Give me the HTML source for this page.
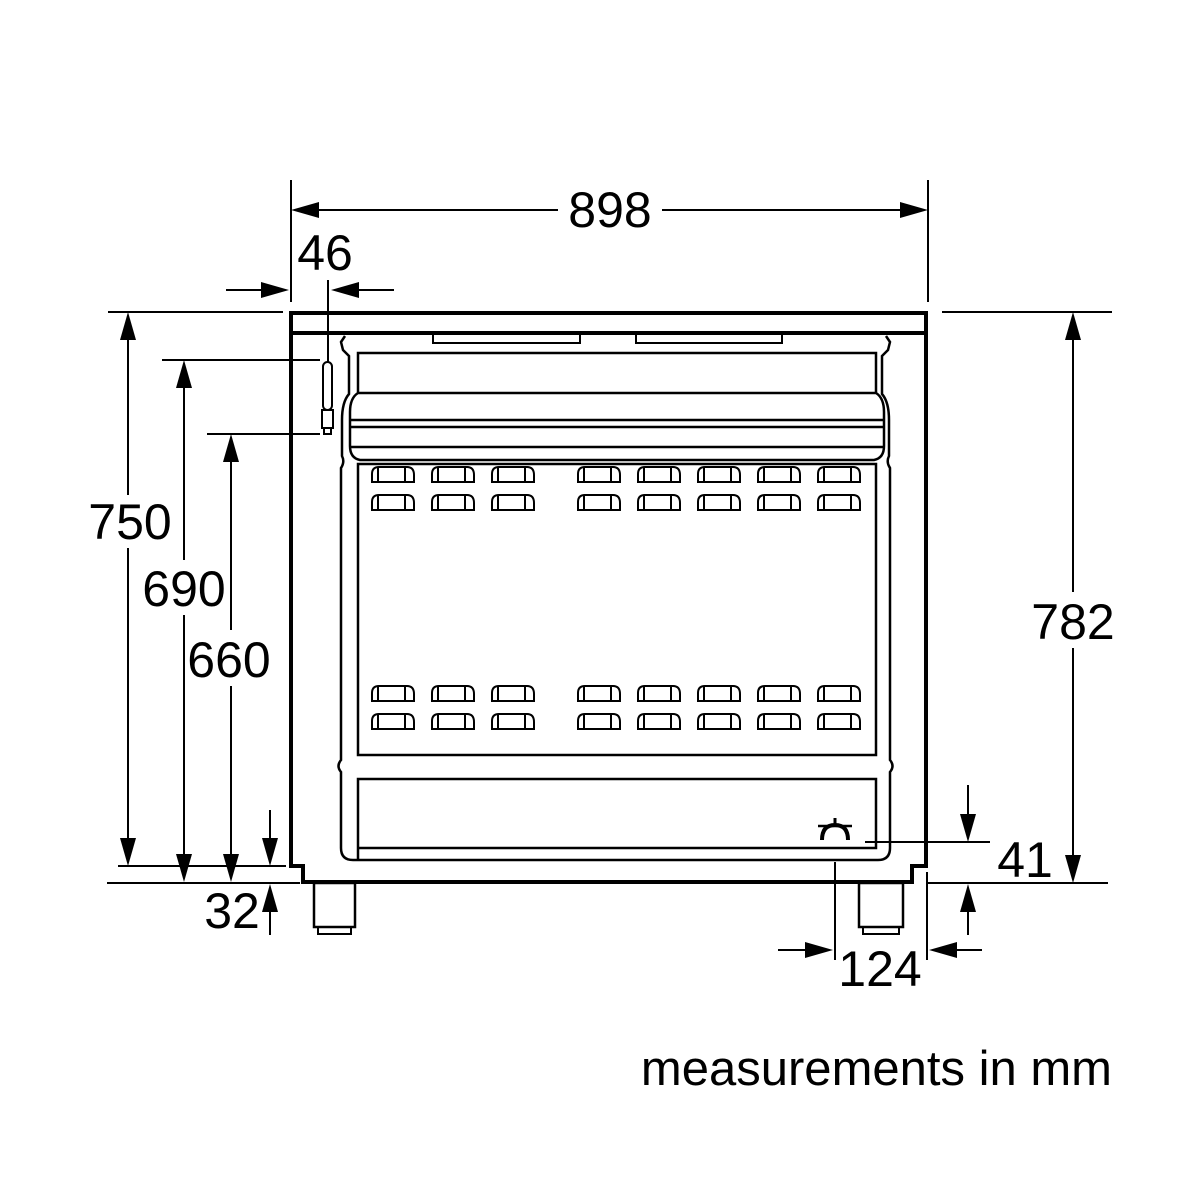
<!DOCTYPE html>
<html><head><meta charset="utf-8"><style>
html,body{margin:0;padding:0;background:#fff;}
svg{display:block;}
text{font-family:"Liberation Sans",sans-serif;fill:#000;}
</style></head><body>
<svg width="1200" height="1200" viewBox="0 0 1200 1200" xmlns="http://www.w3.org/2000/svg">
<defs>
<symbol id="vent" viewBox="0 0 44 17" width="44" height="17" overflow="visible">
<path d="M1 16 L1 8 Q1 1 8 1 L36 1 Q43 1 43 9 L43 16 Z" fill="none" stroke="#000" stroke-width="2"/>
<line x1="7" y1="1" x2="7" y2="16" stroke="#000" stroke-width="2"/>
<line x1="34" y1="1" x2="34" y2="16" stroke="#000" stroke-width="2"/>
</symbol>
</defs>
<g fill="none" stroke="#000">
<line x1="290" y1="313" x2="928" y2="313" stroke-width="4"/>
<line x1="290" y1="333" x2="928" y2="333" stroke-width="4"/>
<path d="M291 311 L291 866 L303 866 L303 882 L912 882 L912 866 L926 866 L926 311" stroke-width="4"/>
<path d="M433 333 L433 343 L580 343 L580 333" stroke-width="2"/>
<path d="M636 333 L636 343 L782 343 L782 333" stroke-width="2"/>
<path d="M345 336 L341 342 L343 350 L349 356 L349 394 Q342 402 342 420 L342 456 Q345 462 341 468 L341 760 Q336 766 341 772 L341 848 Q341 860 353 860 L878 860 Q890 860 890 848 L890 772 Q895 766 890 760 L890 468 Q886 462 889 456 L889 420 Q889 402 882 394 L882 356 L888 350 L890 342 L886 336" stroke-width="2.5"/>
<path d="M358 393 L358 353 L876 353 L876 393" stroke-width="2.5"/>
<path d="M358 393 L876 393 Q884 398 884 412 L884 446 Q884 458 874 460 L360 460 Q350 458 350 446 L350 412 Q350 398 358 393" stroke-width="2.5"/>
<line x1="350" y1="420" x2="884" y2="420" stroke-width="2.5"/>
<line x1="350" y1="427" x2="884" y2="427" stroke-width="2.5"/>
<line x1="350" y1="447" x2="884" y2="447" stroke-width="2.5"/>
<rect x="358" y="464" width="518" height="291" stroke-width="2.5"/>
<path d="M358 860 L358 779 L876 779 L876 848 L358 848" stroke-width="2.5"/>
<rect x="314" y="883" width="41" height="44" stroke-width="2.5"/>
<rect x="318" y="927" width="33" height="7" stroke-width="2"/>
<rect x="859" y="883" width="44" height="44" stroke-width="2.5"/>
<rect x="863" y="927" width="36" height="7" stroke-width="2"/>
<rect x="323" y="362" width="9" height="48" rx="4.5" stroke-width="2"/>
<rect x="322" y="410" width="11" height="18" stroke-width="2"/>
<rect x="324" y="428" width="7" height="6" stroke-width="2"/>
<path d="M822 840 Q822 825 835 825 Q848 825 848 840" stroke-width="4"/>
<line x1="818" y1="826" x2="852" y2="826" stroke-width="2.5"/>
<line x1="835" y1="818" x2="835" y2="826" stroke-width="3"/>
</g>
<g fill="#000">
<use href="#vent" x="371" y="466"/><use href="#vent" x="431" y="466"/><use href="#vent" x="491" y="466"/>
<use href="#vent" x="577" y="466"/><use href="#vent" x="637" y="466"/><use href="#vent" x="697" y="466"/><use href="#vent" x="757" y="466"/><use href="#vent" x="817" y="466"/>
<use href="#vent" x="371" y="494"/><use href="#vent" x="431" y="494"/><use href="#vent" x="491" y="494"/>
<use href="#vent" x="577" y="494"/><use href="#vent" x="637" y="494"/><use href="#vent" x="697" y="494"/><use href="#vent" x="757" y="494"/><use href="#vent" x="817" y="494"/>
<use href="#vent" x="371" y="685"/><use href="#vent" x="431" y="685"/><use href="#vent" x="491" y="685"/>
<use href="#vent" x="577" y="685"/><use href="#vent" x="637" y="685"/><use href="#vent" x="697" y="685"/><use href="#vent" x="757" y="685"/><use href="#vent" x="817" y="685"/>
<use href="#vent" x="371" y="713"/><use href="#vent" x="431" y="713"/><use href="#vent" x="491" y="713"/>
<use href="#vent" x="577" y="713"/><use href="#vent" x="637" y="713"/><use href="#vent" x="697" y="713"/><use href="#vent" x="757" y="713"/><use href="#vent" x="817" y="713"/>
</g>
<g stroke="#000" stroke-width="2" fill="none">
<line x1="291" y1="180" x2="291" y2="302"/>
<line x1="928" y1="180" x2="928" y2="302"/>
<line x1="300" y1="210" x2="558" y2="210"/>
<line x1="662" y1="210" x2="918" y2="210"/>
<line x1="328" y1="280" x2="328" y2="362"/>
<line x1="226" y1="290" x2="270" y2="290"/>
<line x1="350" y1="290" x2="394" y2="290"/>
<line x1="108" y1="312" x2="283" y2="312"/>
<line x1="162" y1="360" x2="320" y2="360"/>
<line x1="207" y1="434" x2="320" y2="434"/>
<line x1="118" y1="866" x2="286" y2="866"/>
<line x1="107" y1="883" x2="300" y2="883"/>
<line x1="128" y1="330" x2="128" y2="495"/>
<line x1="128" y1="548" x2="128" y2="848"/>
<line x1="184" y1="380" x2="184" y2="560"/>
<line x1="184" y1="615" x2="184" y2="864"/>
<line x1="231" y1="452" x2="231" y2="630"/>
<line x1="231" y1="686" x2="231" y2="864"/>
<line x1="270" y1="810" x2="270" y2="848"/>
<line x1="270" y1="900" x2="270" y2="935"/>
<line x1="942" y1="312" x2="1112" y2="312"/>
<line x1="928" y1="883" x2="1108" y2="883"/>
<line x1="1073" y1="330" x2="1073" y2="592"/>
<line x1="1073" y1="648" x2="1073" y2="865"/>
<line x1="865" y1="842" x2="990" y2="842"/>
<line x1="968" y1="785" x2="968" y2="824"/>
<line x1="968" y1="901" x2="968" y2="935"/>
<line x1="835" y1="862" x2="835" y2="960"/>
<line x1="927" y1="872" x2="927" y2="960"/>
<line x1="778" y1="950" x2="816" y2="950"/>
<line x1="946" y1="950" x2="982" y2="950"/>
</g>
<g fill="#000">
<polygon points="291,210 319,202 319,218"/>
<polygon points="928,210 900,202 900,218"/>
<polygon points="289,290 261,282 261,298"/>
<polygon points="331,290 359,282 359,298"/>
<polygon points="128,312 120,340 136,340"/>
<polygon points="128,866 120,838 136,838"/>
<polygon points="184,360 176,388 192,388"/>
<polygon points="184,882 176,854 192,854"/>
<polygon points="231,434 223,462 239,462"/>
<polygon points="231,882 223,854 239,854"/>
<polygon points="270,866 262,838 278,838"/>
<polygon points="270,884 262,912 278,912"/>
<polygon points="1073,312 1065,340 1081,340"/>
<polygon points="1073,883 1065,855 1081,855"/>
<polygon points="968,842 960,814 976,814"/>
<polygon points="968,884 960,912 976,912"/>
<polygon points="833,950 805,942 805,958"/>
<polygon points="929,950 957,942 957,958"/>
</g>
<g font-size="50" text-anchor="middle">
<text x="610" y="227">898</text>
<text x="325" y="270">46</text>
<text x="130" y="539">750</text>
<text x="184" y="606">690</text>
<text x="229" y="677">660</text>
<text x="232" y="928">32</text>
<text x="1073" y="639">782</text>
<text x="1025" y="877">41</text>
<text x="880" y="986">124</text>
</g>
<text x="1112" y="1085" font-size="49" text-anchor="end">measurements in mm</text>
</svg>
</body></html>
